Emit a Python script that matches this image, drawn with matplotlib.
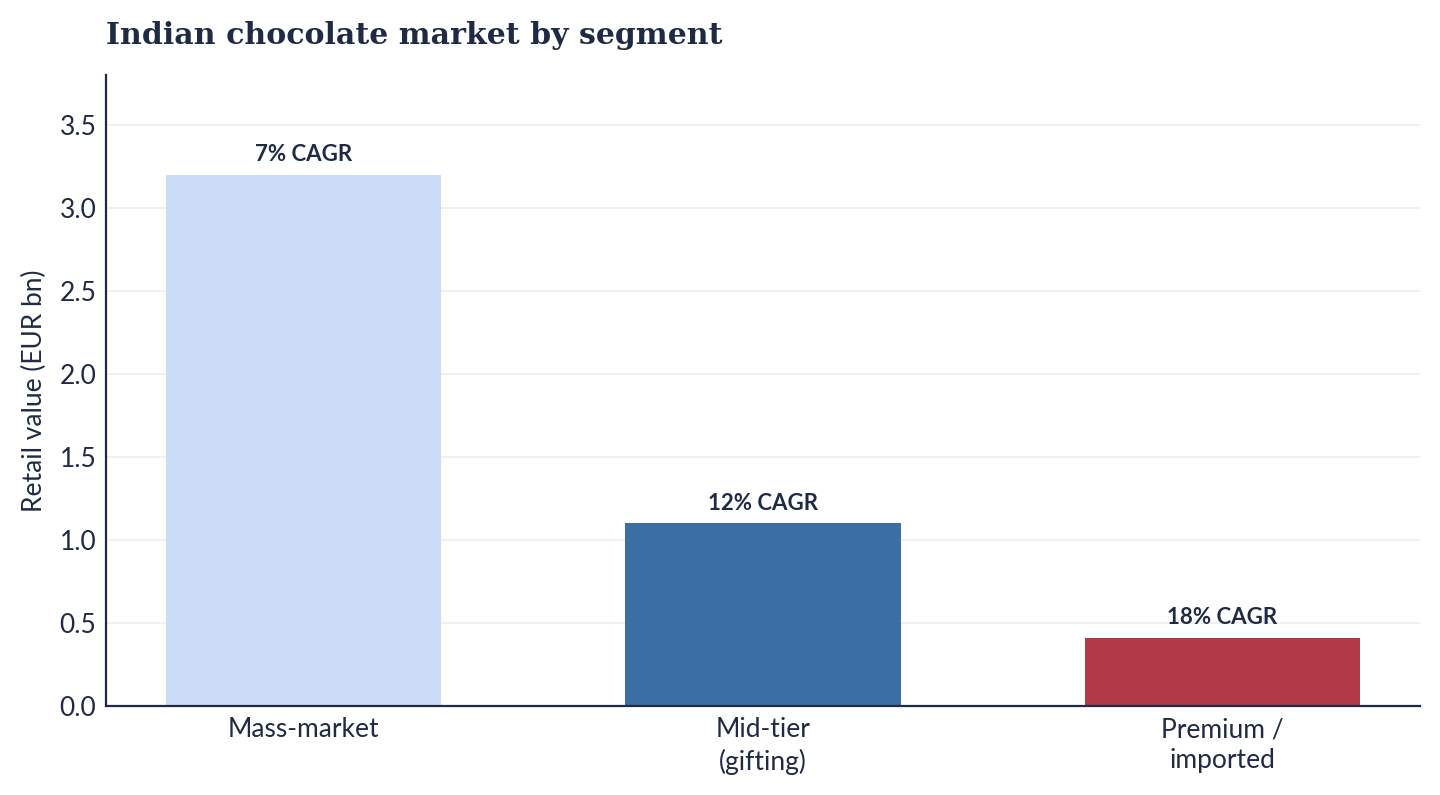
import matplotlib.pyplot as plt

# data
segments = ['Mass-market', 'Mid-tier\n(gifting)', 'Premium /\nimported']
retail_value = [3.2, 1.1, 0.41]
cagr_labels = ['7% CAGR', '12% CAGR', '18% CAGR']
bar_colors = ['#cbdcf9', '#3a6ea5', '#b03a48']

navy = '#1f2a44'
plt.rcParams['font.family'] = ['Lato', 'DejaVu Sans']

fig = plt.figure(figsize=(14.4, 7.95), dpi=100)
ax = fig.add_axes([106 / 1440, 1 - 706 / 795, 1314 / 1440, 631 / 795])

x = list(range(len(segments)))
bars = ax.bar(x, retail_value, width=0.6, color=bar_colors, zorder=2)

for b, lab in zip(bars, cagr_labels):
    ax.annotate(lab, (b.get_x() + b.get_width() / 2, b.get_height()),
                xytext=(0, 7), textcoords='offset points',
                ha='center', va='bottom', fontsize=16, fontweight='bold',
                color=navy)

ax.set_xlim(-0.43, 2.43)
ax.set_ylim(0, 3.8)
ax.set_yticks([0, 0.5, 1.0, 1.5, 2.0, 2.5, 3.0, 3.5])
ax.set_yticklabels(['%.1f' % v for v in ax.get_yticks()])
ax.set_xticks(x)
ax.set_xticklabels(segments, linespacing=1.3)
ax.tick_params(axis='both', length=0, labelsize=19, labelcolor=navy)
ax.tick_params(axis='y', pad=7)
ax.tick_params(axis='x', pad=8)

ax.grid(axis='y', color='#eeeeee', linewidth=1.2, zorder=0)
ax.set_axisbelow(True)
for s in ['top', 'right']:
    ax.spines[s].set_visible(False)
for s in ['left', 'bottom']:
    ax.spines[s].set_color(navy)
    ax.spines[s].set_linewidth(1.6)
    ax.spines[s].set_zorder(3)

ax.set_ylabel('Retail value (EUR bn)', fontsize=19, color=navy, labelpad=9)

fig.text(106 / 1440, 1 - 36 / 795, 'Indian chocolate market by segment',
         fontsize=21.6, fontweight='bold', family='DejaVu Serif',
         color=navy, ha='left', va='center')

fig.savefig('out.png', dpi=100, facecolor='white')
